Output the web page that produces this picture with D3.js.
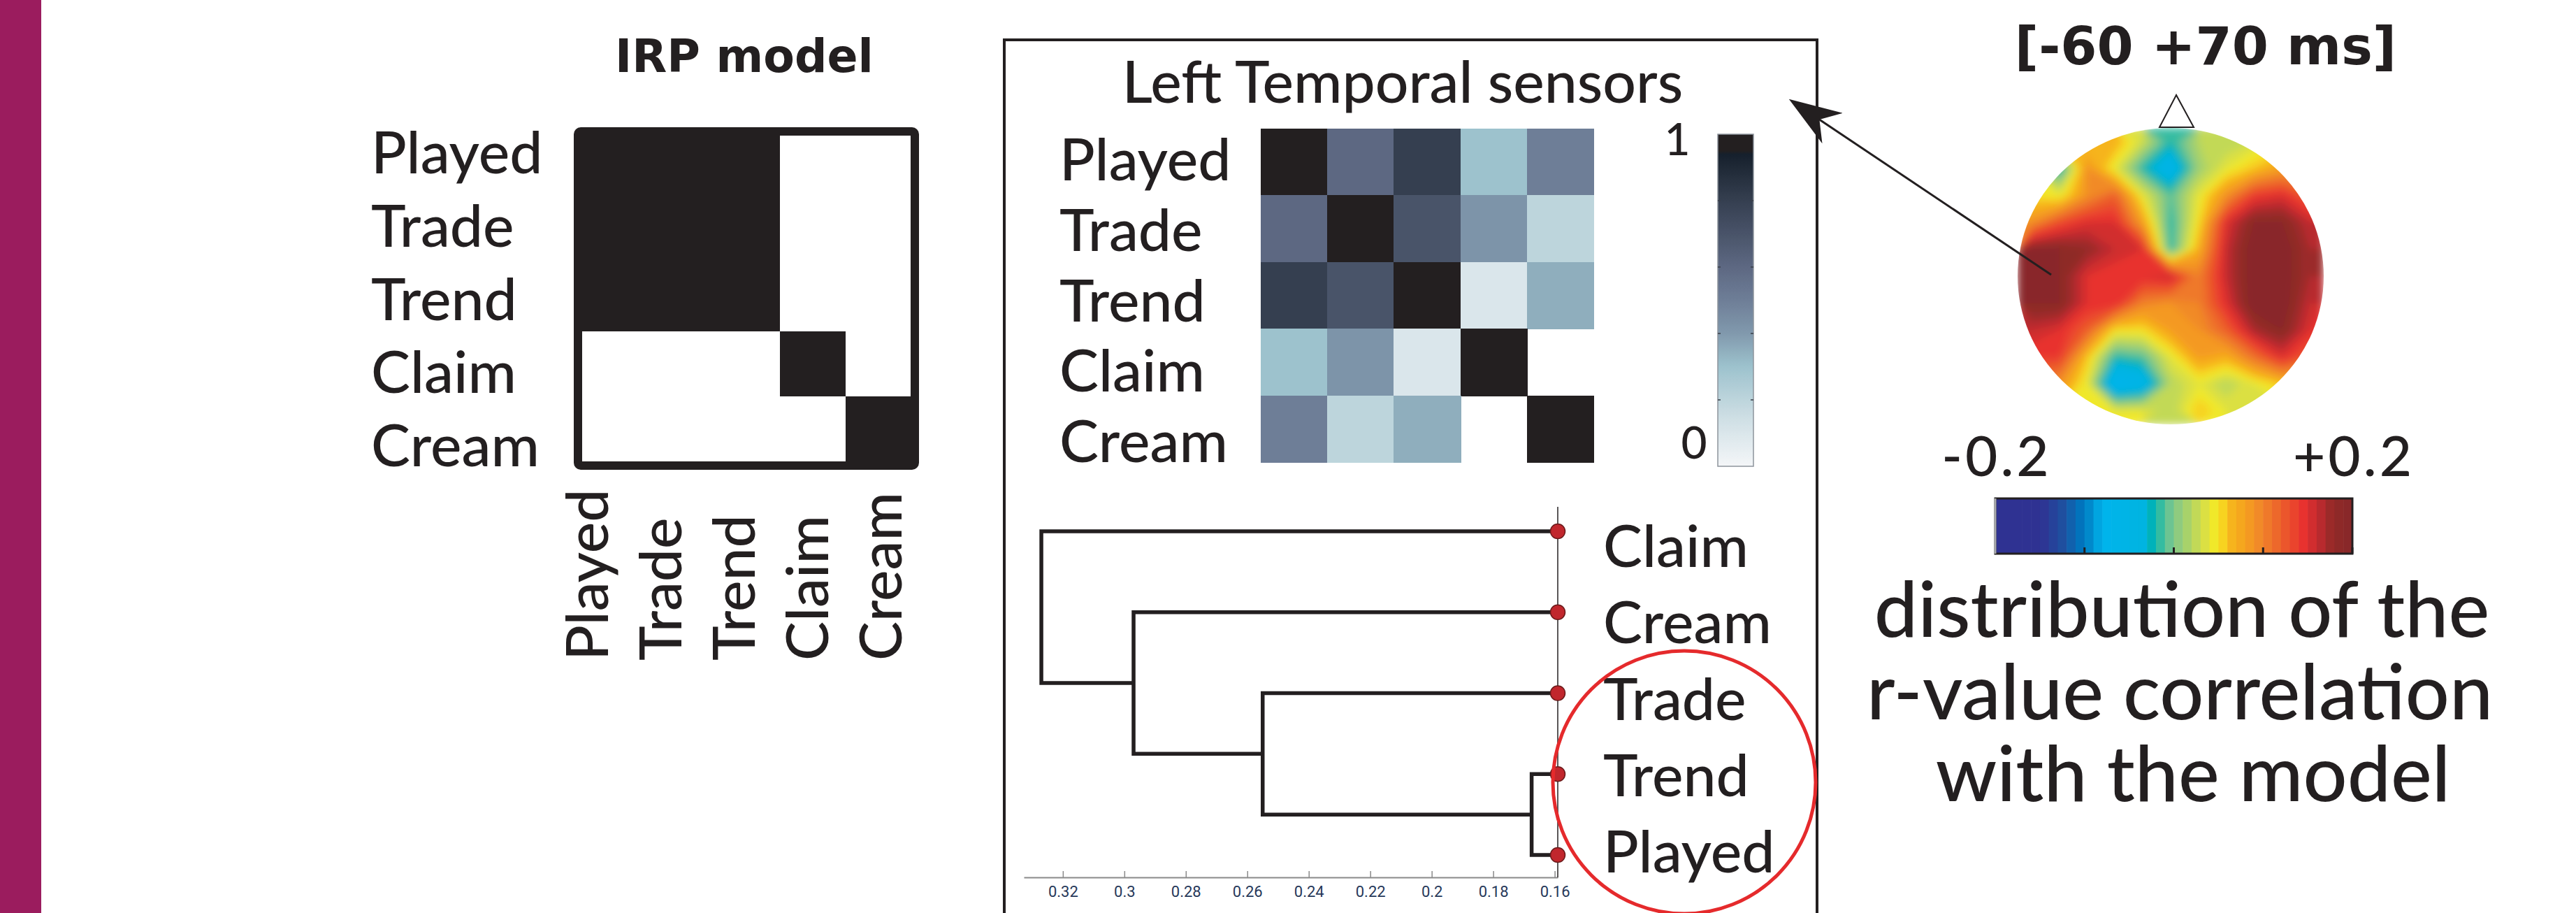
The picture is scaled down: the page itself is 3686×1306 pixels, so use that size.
<!DOCTYPE html>
<html>
<head>
<meta charset="utf-8">
<script src="https://cdn.jsdelivr.net/npm/d3@7"></script>
<style>
  body { margin: 0; background: #fff; }
  svg { display: block; }
  text { font-family: Lato, "Open Sans", sans-serif; fill: #231f20; font-weight: 500; }
</style>
</head>
<body>
<svg id="fig" width="3686" height="1306"></svg>
<script>
// ---- data ----
const words = ['Played', 'Trade', 'Trend', 'Claim', 'Cream'];

// IRP model: 1 = same category
const irpModel = [
  [1, 1, 1, 0, 0],
  [1, 1, 1, 0, 0],
  [1, 1, 1, 0, 0],
  [0, 0, 0, 1, 0],
  [0, 0, 0, 0, 1]
];

// Left temporal sensors similarity (null = blank cell)
const sensorSim = [
  [1.00, 0.60, 0.80, 0.30, 0.50],
  [0.60, 1.00, 0.70, 0.42, 0.20],
  [0.80, 0.70, 1.00, 0.10, 0.35],
  [0.30, 0.42, 0.10, 1.00, null],
  [0.50, 0.20, 0.35, null, 1.00]
];
const simTickLabels = [1, 0];

// dendrogram
const leafOrder = ['Claim', 'Cream', 'Trade', 'Trend', 'Played'];
const linkage = [
  ['Trend', 'Played', 0.1675],
  ['Trade', 'Trend+Played', 0.255],
  ['Cream', 'Trade+Trend+Played', 0.297],
  ['Claim', 'Cream+Trade+Trend+Played', 0.327]
];
const leafLevel = 0.159;
const dendroTicks = [0.32, 0.3, 0.28, 0.26, 0.24, 0.22, 0.2, 0.18, 0.16];

// topography of r-values (11 x 11 grid over the head, rows top -> bottom)
const topoGrid = [
  [0.06, 0.06, 0.06, 0.07, 0.03, -0.02, 0.02, 0.02, 0.03, 0.04, 0.04],
  [0.04, -0.03, 0.09, 0.04, -0.02, -0.06, 0.01, 0.04, 0.06, 0.08, 0.08],
  [0.05, 0.04, 0.09, 0.12, 0.04, -0.01, 0.04, 0.09, 0.14, 0.15, 0.12],
  [0.09, 0.13, 0.15, 0.15, 0.08, -0.02, 0.05, 0.15, 0.19, 0.19, 0.16],
  [0.19, 0.19, 0.18, 0.16, 0.15, -0.02, 0.07, 0.16, 0.20, 0.20, 0.17],
  [0.19, 0.19, 0.15, 0.14, 0.15, 0.16, 0.10, 0.16, 0.20, 0.20, 0.17],
  [0.19, 0.19, 0.15, 0.15, 0.10, 0.09, 0.10, 0.15, 0.20, 0.20, 0.16],
  [0.16, 0.15, 0.12, 0.05, 0.05, 0.08, 0.09, 0.12, 0.17, 0.19, 0.15],
  [0.14, 0.14, 0.06, -0.02, -0.01, 0.04, 0.08, 0.07, 0.11, 0.15, 0.12],
  [0.10, 0.09, 0.04, -0.08, -0.06, 0.02, 0.04, 0.02, 0.04, 0.06, 0.06],
  [0.05, 0.05, 0.04, 0.04, 0.04, 0.02, 0.06, 0.04, 0.03, 0.03, 0.03]
];
const rRange = [-0.2, 0.2];
const rTickValues = [-0.1, 0, 0.1, 0.2];
const rLabels = ['-0.2', '+0.2'];

// colour maps
const simColor = d3.scaleLinear()
  .domain([0, 0.15, 0.3, 0.4, 0.5, 0.6, 0.8, 0.94, 0.95, 1])
  .range(['#f4f6f8', '#cddee4', '#9dc2cd', '#8199ad', '#6e7e97', '#5d6882', '#353f50', '#16202c', '#231f20', '#231f20']);

const jet = d3.scaleLinear()
  .domain([-0.2, -0.148, -0.124, -0.104, -0.092, -0.08, -0.032, -0.024, -0.014, -0.002, 0.014, 0.032, 0.048, 0.064, 0.08, 0.098, 0.12, 0.146, 0.165, 0.178, 0.2])
  .range(['#2f3292', '#2f3292', '#1e50a0', '#0075bd', '#0290cf', '#00b4ec', '#00b4e0', '#00b2b4', '#3abd9f', '#7dc68e', '#a5d16c', '#d4de4a', '#f7ea22', '#f6b51d', '#f5a11f', '#f0852a', '#ec5f2b', '#e8302f', '#b82a2e', '#922a27', '#86272a'])
  .clamp(true);

const ink = '#231f20';
const svg = d3.select('#fig');

svg.append('rect').attr('width', 3686).attr('height', 1306).attr('fill', '#fff');
// magenta side band
svg.append('rect').attr('x', 0).attr('y', 0).attr('width', 59).attr('height', 1306).attr('fill', '#9b1c5e');

// =============== IRP model ===============
const irp = svg.append('g');
irp.append('text').attr('x', 1065).attr('y', 103).attr('text-anchor', 'middle')
  .style('font-family', '"DejaVu Sans", sans-serif')
  .style('font-weight', 700)
  .attr('font-size', 65).text('IRP model');

const irpX = d3.scaleBand().domain(words).range([833, 1304]);
const irpY = d3.scaleBand().domain(words).range([194, 660]);

irp.selectAll('rect.cell')
  .data(irpModel.flatMap((row, i) => row.map((v, j) => ({r: words[i], c: words[j], v}))))
  .enter().append('rect')
  .attr('class', 'cell')
  .attr('x', d => irpX(d.c))
  .attr('y', d => irpY(d.r))
  .attr('width', irpX.bandwidth() + 1)
  .attr('height', irpY.bandwidth() + 1)
  .attr('shape-rendering', 'crispEdges')
  .attr('fill', d => d.v ? ink : '#fff');

irp.append('rect')
  .attr('x', 827).attr('y', 188).attr('width', 482).attr('height', 478)
  .attr('rx', 4).attr('fill', 'none').attr('stroke', ink).attr('stroke-width', 12);

const irpRowY = d3.scalePoint().domain(words).range([248, 667]);
irp.selectAll('text.row').data(words).enter().append('text')
  .attr('class', 'row')
  .attr('x', 531).attr('y', d => irpRowY(d))
  .attr('font-size', 84).text(d => d);

const irpColX = d3.scalePoint().domain(words).range([870, 1290]);
irp.selectAll('text.col').data(words).enter().append('text')
  .attr('class', 'col')
  .attr('transform', d => `translate(${irpColX(d)},945) rotate(-90)`)
  .attr('font-size', 84).text(d => d);

// =============== Left temporal sensors ===============
const mid = svg.append('g');
mid.append('rect').attr('x', 1437).attr('y', 57).attr('width', 1163).attr('height', 1320)
  .attr('fill', 'none').attr('stroke', ink).attr('stroke-width', 4);

mid.append('text').attr('x', 2007).attr('y', 147).attr('text-anchor', 'middle')
  .attr('font-size', 84).text('Left Temporal sensors');

const simX = d3.scaleBand().domain(words).range([1804, 2280]);
const simY = d3.scaleBand().domain(words).range([184, 661]);

mid.selectAll('rect.sim')
  .data(sensorSim.flatMap((row, i) => row.map((v, j) => ({r: words[i], c: words[j], v}))).filter(d => d.v !== null))
  .enter().append('rect')
  .attr('class', 'sim')
  .attr('x', d => simX(d.c))
  .attr('y', d => simY(d.r))
  .attr('width', simX.bandwidth() + 1)
  .attr('height', simY.bandwidth() + 1)
  .attr('shape-rendering', 'crispEdges')
  .attr('fill', d => simColor(d.v));

const simRowY = d3.scalePoint().domain(words).range([258, 661]);
mid.selectAll('text.simrow').data(words).enter().append('text')
  .attr('class', 'simrow')
  .attr('x', 1516).attr('y', d => simRowY(d))
  .attr('font-size', 84).text(d => d);

// vertical colour bar
const defs = svg.append('defs');
const grad = defs.append('linearGradient').attr('id', 'simGrad')
  .attr('x1', 0).attr('y1', 1).attr('x2', 0).attr('y2', 0);
grad.selectAll('stop').data(d3.range(0, 1.0001, 0.01)).enter().append('stop')
  .attr('offset', d => d).attr('stop-color', d => simColor(d));

const cbY = d3.scaleLinear().domain([0, 1]).range([667, 192]);
mid.append('rect').attr('x', 2458).attr('y', cbY(1)).attr('width', 51).attr('height', cbY(0) - cbY(1))
  .attr('fill', 'url(#simGrad)').attr('stroke', '#8d949c').attr('stroke-width', 1.5);
mid.selectAll('path.cbt').data([0.2, 0.4, 0.6, 0.8]).enter().append('path')
  .attr('class', 'cbt')
  .attr('d', d => `M2458,${cbY(d)}h4M2509,${cbY(d)}h-4`)
  .attr('stroke', '#3a3f48').attr('stroke-width', 1.5);
mid.selectAll('text.cbl').data(simTickLabels).enter().append('text')
  .attr('class', 'cbl')
  .attr('x', d => d === 1 ? 2400 : 2424)
  .attr('y', d => d === 1 ? 222 : 656)
  .attr('text-anchor', 'middle').attr('font-size', 64).text(d => d);

// dendrogram
const dendroX = d3.scaleLinear().domain([0.3327, 0.159]).range([1465, 2229]);
const leafY = d3.scalePoint().domain(leafOrder).range([760, 1223]);
const labelY = d3.scalePoint().domain(leafOrder).range([811, 1248]);

const axis = d3.axisBottom(dendroX)
  .tickValues(dendroTicks)
  .tickSize(-9)
  .tickSizeOuter(0)
  .tickPadding(12)
  .tickFormat(d => String(+d.toFixed(2)));
const ax = mid.append('g').attr('transform', 'translate(0,1255)').call(axis);
ax.select('.domain').attr('stroke', '#8a8a8a').attr('stroke-width', 2);
ax.selectAll('.tick line').attr('stroke', '#8a8a8a').attr('stroke-width', 1.5);
ax.selectAll('.tick text').attr('font-size', 22)
  .style('font-family', '"Liberation Sans Narrow", "Roboto", sans-serif')
  .style('fill', '#27395a').style('font-weight', 400);

mid.append('line').attr('x1', dendroX(leafLevel)).attr('x2', dendroX(leafLevel))
  .attr('y1', 725).attr('y2', 1255).attr('stroke', ink).attr('stroke-width', 1.5);

const nodes = {};
leafOrder.forEach(n => { nodes[n] = {x: dendroX(leafLevel), y: leafY(n)}; });
const links = [];
linkage.forEach(([a, b, h]) => {
  const na = nodes[a], nb = nodes[b];
  const node = {x: dendroX(h), y: (na.y + nb.y) / 2};
  links.push({a: na, b: nb, node});
  nodes[a + '+' + b] = node;
});
mid.selectAll('path.link').data(links).enter().append('path')
  .attr('class', 'link')
  .attr('d', d => `M${d.a.x},${d.a.y}H${d.node.x}V${d.b.y}H${d.b.x}`)
  .attr('fill', 'none').attr('stroke', ink).attr('stroke-width', 5.5)
  .attr('stroke-linejoin', 'miter');

mid.selectAll('circle.leaf').data(leafOrder).enter().append('circle')
  .attr('class', 'leaf')
  .attr('cx', dendroX(leafLevel)).attr('cy', d => leafY(d)).attr('r', 10.5)
  .attr('fill', '#c1272d').attr('stroke', '#6b1a1a').attr('stroke-width', 1.5);

mid.selectAll('text.leafl').data(leafOrder).enter().append('text')
  .attr('class', 'leafl')
  .attr('x', 2294).attr('y', d => labelY(d))
  .attr('font-size', 84).text(d => d);

mid.append('ellipse').attr('cx', 2410).attr('cy', 1119).attr('rx', 188).attr('ry', 188)
  .attr('fill', 'none').attr('stroke', '#e52a2c').attr('stroke-width', 5);

// =============== topography ===============
const right = svg.append('g');
right.append('text').attr('x', 3156).attr('y', 92).attr('text-anchor', 'middle')
  .style('font-family', '"DejaVu Sans", sans-serif')
  .style('font-weight', 700)
  .attr('font-size', 75).text('[-60 +70 ms]');

const head = {cx: 3106, cy: 395, rx: 219, ry: 212};
defs.append('clipPath').attr('id', 'headClip')
  .append('ellipse').attr('cx', head.cx).attr('cy', head.cy).attr('rx', head.rx).attr('ry', head.ry);
defs.append('filter').attr('id', 'soft').attr('x', '-5%').attr('y', '-5%').attr('width', '110%').attr('height', '110%')
  .append('feGaussianBlur').attr('stdDeviation', 6);

const nCols = topoGrid[0].length, nRows = topoGrid.length;
const gx = d3.scaleLinear().domain([0, nCols]).range([head.cx - head.rx, head.cx + head.rx]);
const gy = d3.scaleLinear().domain([0, nRows]).range([head.cy - head.ry, head.cy + head.ry]);
const proj = d3.geoTransform({point(x, y) { this.stream.point(gx(x), gy(y)); }});
const topoPath = d3.geoPath(proj);
const bands = d3.contours().size([nCols, nRows])
  .thresholds(d3.range(-0.2, 0.2, 0.01))(topoGrid.flat())
  .filter(c => c.coordinates.length);

right.append('g').attr('clip-path', 'url(#headClip)')
  .append('g').attr('filter', 'url(#soft)')
  .selectAll('path').data(bands).enter().append('path')
  .attr('d', topoPath)
  .attr('fill', d => jet(d.value + 0.005));

// nose marker
right.append('path')
  .attr('d', `M${head.cx + 8},136L${head.cx - 16},182L${head.cx + 33},182Z`)
  .attr('fill', '#fff').attr('stroke', ink).attr('stroke-width', 2);

// arrow from the head to the sensor panel
defs.append('marker').attr('id', 'arrowHead')
  .attr('viewBox', '0 0 20 14').attr('refX', 18).attr('refY', 7)
  .attr('markerWidth', 25).attr('markerHeight', 17.5).attr('markerUnits', 'strokeWidth')
  .attr('orient', 'auto')
  .append('path').attr('d', 'M0,0L20,7L0,14L6,7Z').attr('fill', ink);
right.append('line').attr('x1', 2935).attr('y1', 393).attr('x2', 2566).attr('y2', 146)
  .attr('stroke', ink).attr('stroke-width', 3).attr('marker-end', 'url(#arrowHead)');

// horizontal colour bar
const rX = d3.scaleLinear().domain(rRange).range([2855, 3366]);
const steps = d3.range(-0.2, 0.2, 0.01);
right.selectAll('rect.jet').data(steps).enter().append('rect')
  .attr('class', 'jet')
  .attr('x', d => rX(d)).attr('y', 713)
  .attr('width', rX(0.01) - rX(0) + 0.6).attr('height', 79)
  .attr('fill', d => jet(d + 0.005));
right.append('rect').attr('x', rX(-0.2)).attr('y', 713).attr('width', rX(0.2) - rX(-0.2)).attr('height', 79)
  .attr('fill', 'none').attr('stroke', ink).attr('stroke-width', 3);
right.append('line').attr('x1', rX(-0.2)).attr('x2', rX(-0.2)).attr('y1', 713).attr('y2', 792)
  .attr('stroke', '#a9aaac').attr('stroke-width', 3);
right.selectAll('path.rt').data(rTickValues).enter().append('path')
  .attr('class', 'rt')
  .attr('d', d => `M${rX(d)},792v-9`)
  .attr('stroke', ink).attr('stroke-width', 3);
right.selectAll('text.rl').data(rLabels).enter().append('text')
  .attr('class', 'rl')
  .attr('x', (d, i) => rX(rRange[i]) + 2)
  .attr('y', 681).attr('text-anchor', 'middle')
  .attr('font-size', 80).attr('letter-spacing', 4).text(d => d);

const caption = ['distribution of the', 'r-value correlation', 'with the model'];
const capX = [3122, 3119, 3138];
right.selectAll('text.cap').data(caption).enter().append('text')
  .attr('class', 'cap')
  .attr('x', (d, i) => capX[i]).attr('y', (d, i) => 911 + i * 117.5)
  .attr('text-anchor', 'middle')
  .attr('font-size', 111).text(d => d);
</script>
</body>
</html>
